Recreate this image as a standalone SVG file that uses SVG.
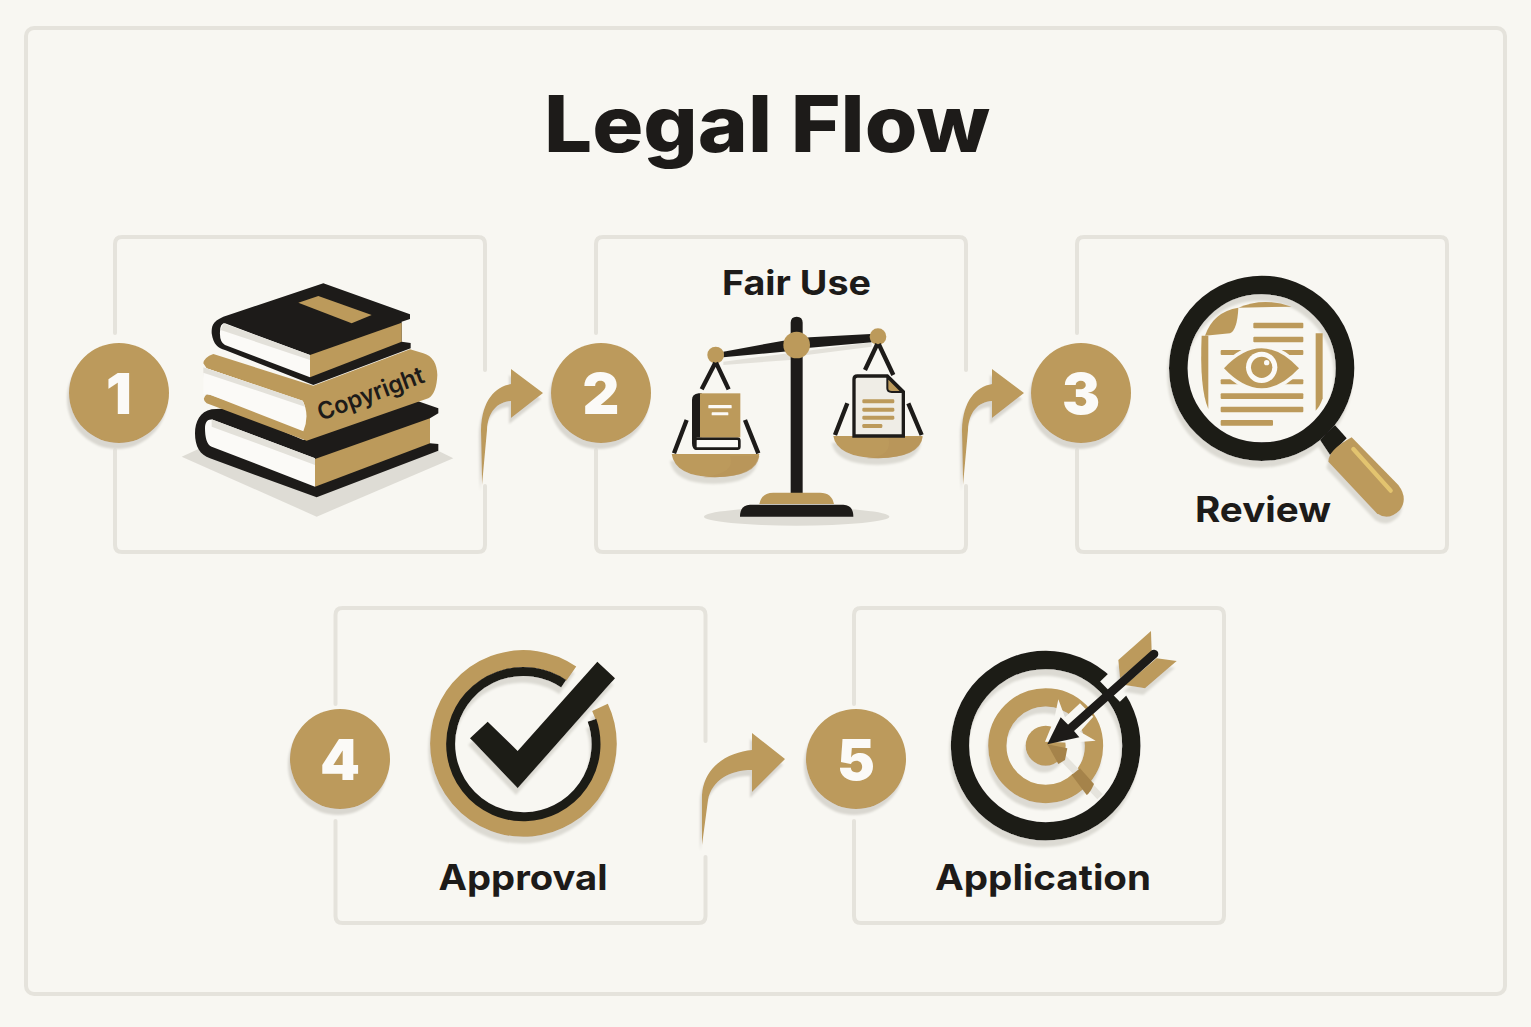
<svg xmlns="http://www.w3.org/2000/svg" xmlns:xlink="http://www.w3.org/1999/xlink" width="1531" height="1027" viewBox="0 0 1531 1027">
<style>
.frame{fill:none;stroke:#e5e3dc;stroke-width:4;stroke-linecap:round}
.k{fill:#1d1b19}.g{fill:#bc9a5b}.p{fill:#fbfaf7}.bg{fill:#f8f7f2}
.ks{fill:none;stroke:#1d1b19}.gs{fill:none;stroke:#bc9a5b}
.lab{font-family:Inter,"Liberation Sans",sans-serif;font-weight:700;fill:#1d1b19;text-anchor:middle}
.num{font-family:Inter,"Liberation Sans",sans-serif;font-weight:900;font-size:57px;fill:#fbfaf7;text-anchor:middle}
</style>
<defs>
<filter id="sh" x="-20%" y="-20%" width="140%" height="150%"><feDropShadow dx="-2" dy="6" stdDeviation="1" flood-color="#d9d7d0"/></filter>
<filter id="shz" x="-20%" y="-20%" width="140%" height="150%"><feDropShadow dx="-5" dy="20" stdDeviation="3" flood-color="#dcdad3"/></filter>
<path id="cardA" class="frame" d="M0,97V8Q0,1 7,1H363Q370,1 370,8V134M370,250V309Q370,316 363,316H7Q0,316 0,309V214"/>
<path id="cardB" class="frame" d="M0,97V8Q0,1 7,1H363Q370,1 370,8V309Q370,316 363,316H7Q0,316 0,309V214"/>
</defs>
<rect width="1531" height="1027" class="bg"/>
<rect x="26" y="28" width="1479" height="966" rx="8" class="frame"/>
<text id="title" x="767" y="152" class="lab" font-size="78" font-weight="800" style="font-weight:800" textLength="446" lengthAdjust="spacingAndGlyphs">Legal Flow</text>

<g id="connectors" class="g" filter="url(#sh)">
<path d="M482,485L481,430C482,400 495,387 511,384V369L543,393L511,418V401C497,402 488,412 487,430Z"/>
<path d="M963,485L962,430C963,400 976,387 992,384V369L1024,393L992,418V401C978,402 969,412 968,430Z"/>
<path d="M702,845L702,795C704,765 730,752 752,750V733L785,759L752,792V770C730,770 712,780 708,800Z"/>
</g>

<g id="node1">
<use xlink:href="#cardA" href="#cardA" x="115" y="236"/>
<g transform="translate(170 270) scale(.33333)">
<path d="M35,560L100,530L780,530L850,565L440,740Z" fill="#dedcd5"/>
<path class="k" d="M125,418C90,425 75,455 75,490C75,530 90,555 120,565L440,682L805,542V522L780,520V445L805,430V415L740,392L400,510L180,415Z"/>
<path class="p" d="M105,475C105,455 115,445 130,450L435,565V650L125,530C110,525 105,500 105,475Z"/>
<path d="M125,448L435,565V585L125,470Z" fill="#e3e1da"/>
<path class="g" d="M435,567L780,445V520L435,650Z"/>
<path d="M100,295L400,400V490L110,385Z" fill="#dedcd5" transform="translate(0 12)"/>
<path class="g" d="M100,280Q102,262 130,252L430,347L720,238L760,250Q800,262 802,315Q800,370 775,385L410,512L110,400Q92,385 112,372L400,470V395L110,295Z"/>
<path class="p" d="M100,292L398,392Q420,435 400,484L122,375L100,372Z"/>
<path d="M100,292L398,392L405,410L100,308Z" fill="#e3e1da"/>
<path class="k" d="M160,140C125,155 125,170 125,190C130,225 145,235 165,240L430,345L722,235V219L695,215V155L720,147V133L460,40Z"/>
<path class="p" d="M150,185Q150,160 165,160L420,255V322L165,225Q148,215 150,185Z"/>
<path d="M160,160L420,255V270L152,180Z" fill="#e3e1da"/>
<path class="g" d="M420,255L695,158V215L420,322Z"/>
<path class="g" d="M385,98L445,78L605,135L545,160Z"/>
</g>
<text transform="translate(321 421) rotate(-20.5)" font-family="Inter,'Liberation Sans',sans-serif" font-weight="600" font-size="24" fill="#1d1b19" textLength="112" lengthAdjust="spacingAndGlyphs">Copyright</text>
<g filter="url(#sh)"><circle cx="119" cy="393" r="50" class="g"/></g>
<text x="119" y="414" class="num">1</text>
</g>

<g id="node2">
<use xlink:href="#cardA" href="#cardA" x="596" y="236"/>
<text x="796.500" y="295" class="lab" font-size="34" textLength="149" lengthAdjust="spacingAndGlyphs">Fair Use</text>
<g transform="translate(650 300) scale(.33333)">
<ellipse cx="440" cy="650" rx="278" ry="27" fill="#dedcd5"/>
<path d="M220,185L665,127L665,140L470,165L420,180L220,195Z" fill="#e3e1da"/>
<path class="k" d="M422,68Q422,50 440,50Q458,50 458,68V580H422Z"/>
<path class="k" d="M220,155L400,122L480,112L662,102L665,127L480,143L400,155L220,172Z"/>
<circle cx="440" cy="135" r="40" class="g"/>
<circle cx="197" cy="165" r="25" class="g"/><circle cx="684" cy="110" r="25" class="g"/>
<path class="ks" stroke-width="13" d="M196,188L155,268M198,188L236,268M110,360L72,460M285,360L325,460M682,132L645,210M686,132L730,225M592,310L555,405M775,310L815,405"/>
<g filter="url(#shz)">
<path class="g" d="M65,462H328Q320,530 195,532Q75,530 65,462Z"/>
<path class="g" d="M550,408H818Q810,472 685,475Q560,472 550,408Z"/>
</g>
<path d="M160,532Q260,520 240,468H328Q320,530 195,532Z" fill="#b8945a" opacity=".7"/>
<path d="M650,475Q730,470 715,412H818Q810,472 685,475Z" fill="#b8945a" opacity=".7"/>
<rect x="134" y="416" width="134" height="30" rx="6" class="p" stroke="#1d1b19" stroke-width="8"/>
<path class="k" d="M146,280H155V412H140V450Q126,448 126,430V300Q126,282 146,280Z"/>
<rect x="150" y="280" width="121" height="132" class="g"/>
<rect x="175" y="315" width="70" height="10" rx="2" class="p"/>
<rect x="185" y="337" width="50" height="9" rx="2" class="p"/>
<path d="M612,408V238Q612,228 622,228H712L760,275V408Z" fill="#efede6" stroke="#1d1b19" stroke-width="10"/>
<path d="M712,232V265Q712,276 725,276H756Z" class="g" stroke="#1d1b19" stroke-width="6"/>
<g class="g"><rect x="637" y="298" width="96" height="12" rx="4"/><rect x="637" y="323" width="96" height="12" rx="4"/><rect x="637" y="347" width="96" height="12" rx="4"/><rect x="637" y="372" width="60" height="12" rx="4"/></g>
<path class="g" d="M328,612Q335,578 370,578H510Q545,578 552,612Z"/>
<path class="k" d="M270,650Q270,615 300,614H580Q610,615 610,650Z"/>
</g>
<g filter="url(#sh)"><circle cx="601" cy="393" r="50" class="g"/></g>
<text x="601" y="414" class="num">2</text>
</g>

<g id="node3">
<use xlink:href="#cardB" href="#cardB" x="1077" y="236"/>
<g transform="translate(1150 265) scale(.33333)">
<g filter="url(#shz)">
<circle cx="335" cy="310" r="250" class="ks" stroke-width="56"/>
<path class="k" d="M510,525L555,480L590,520L540,570Z"/>
<path class="g" d="M605,517L745,660Q775,700 750,735Q715,770 680,745L535,590Q535,555 605,517Z"/>
</g>
<path d="M610,552L722,677" class="gs" style="stroke:#e3c46f" stroke-width="13" stroke-linecap="round"/>
<g class="g">
<path d="M265,128Q262,195 240,205L165,212Q190,140 265,128Z"/>
<path d="M265,128Q340,95 425,125Z"/>
<path d="M155,212H175V432Q148,370 155,212Z"/>
<path d="M497,205H518V400Q510,425 497,437Z"/>
<rect x="310" y="173" width="150" height="17" rx="3"/><rect x="310" y="215" width="150" height="17" rx="3"/>
<rect x="212" y="255" width="248" height="15" rx="3"/><rect x="212" y="343" width="248" height="15" rx="3"/>
<rect x="212" y="385" width="248" height="17" rx="3"/><rect x="212" y="425" width="248" height="17" rx="3"/><rect x="212" y="465" width="157" height="17" rx="3"/>
</g>
<path d="M222,310Q335,190 447,310Q335,430 222,310Z" class="g" stroke="#f8f7f2" stroke-width="22" paint-order="stroke"/>
<circle cx="335" cy="307" r="47" class="p"/><circle cx="335" cy="307" r="32" class="g"/><circle cx="350" cy="293" r="8" class="p"/>
</g>
<text x="1263" y="522" class="lab" font-size="35" textLength="136" lengthAdjust="spacingAndGlyphs">Review</text>
<g filter="url(#sh)"><circle cx="1081" cy="393" r="50" class="g"/></g>
<text x="1081" y="414" class="num">3</text>
</g>

<g id="node4">
<use xlink:href="#cardA" href="#cardA" x="335.500" y="607"/>
<g transform="translate(420 640) scale(.33333)">
<g filter="url(#shz)">
<path class="gs" stroke-width="52" d="M540,202A254,254 0 1 1 454,101"/>
<path class="ks" stroke-width="27" d="M516,241A218,218 0 1 1 431,131"/>
<path class="k" d="M150,295L203,245L293,333L532,65L585,115L293,445Z"/>
</g>
</g>
<text x="523" y="890" class="lab" font-size="35" textLength="169" lengthAdjust="spacingAndGlyphs">Approval</text>
<g filter="url(#sh)"><circle cx="340" cy="759" r="50" class="g"/></g>
<text x="340" y="780" class="num">4</text>
</g>

<g id="node5">
<use xlink:href="#cardB" href="#cardB" x="854" y="607"/>
<g transform="translate(930 620) scale(.33333)">
<g filter="url(#shz)">
<circle cx="347" cy="377" r="257" class="ks" stroke-width="55"/>
<circle cx="347" cy="377" r="145" class="gs" stroke-width="55"/>
<circle cx="347" cy="377" r="60" class="g"/>
</g>
<path d="M400,415L510,530" stroke="#e6e4dd" stroke-width="22" fill="none"/>
<path d="M352,373L412,385L405,420L385,432Z" fill="#a5834a"/>
<path d="M425,465L450,445L492,492Q480,520 470,525Z" fill="#a5834a"/>
<path d="M540,215L690,70" stroke="#f8f7f2" stroke-width="85" fill="none"/>
<path class="bg" d="M385,238L405,292L450,250L490,290L450,335L497,362L420,368L345,365L372,300Z"/>
<g filter="url(#shz)">
<path class="g" d="M565,120L663,33L665,95L570,175Z"/>
<path class="g" d="M680,115L740,123L645,205L585,195Z"/>
</g>
<path class="ks" stroke-width="26" stroke-linecap="round" d="M672,102L410,335"/>
<path class="k" d="M352,373L392,292L425,325L448,352Z"/>
</g>
<text x="1043" y="890" class="lab" font-size="35" textLength="216" lengthAdjust="spacingAndGlyphs">Application</text>
<g filter="url(#sh)"><circle cx="856" cy="759" r="50" class="g"/></g>
<text x="856" y="780" class="num">5</text>
</g>
</svg>
